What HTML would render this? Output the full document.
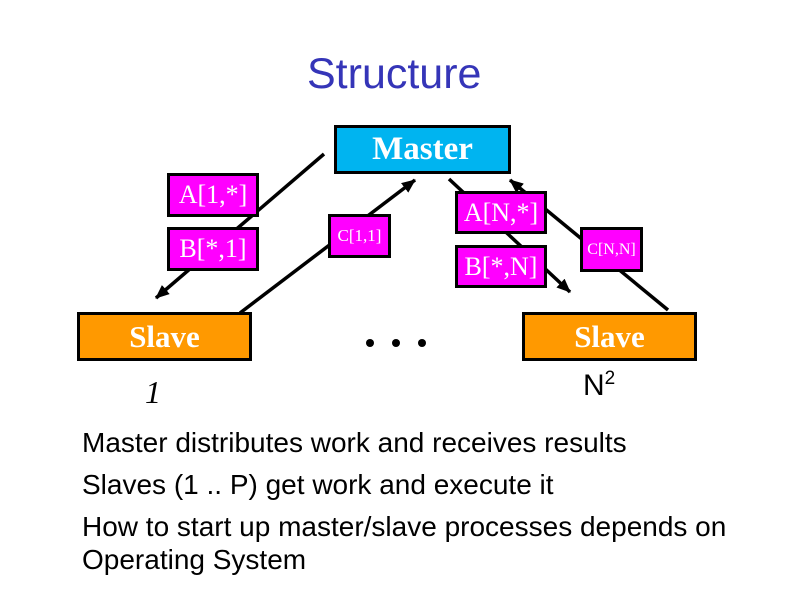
<!DOCTYPE html>
<html><head><meta charset="utf-8"><style>
body{margin:0;width:794px;height:595px;background:#fff;position:relative;overflow:hidden;font-family:"Liberation Sans",sans-serif}
.b{position:absolute;box-sizing:border-box;border:3px solid #000;color:#fff;font-family:"Liberation Serif",serif;font-weight:bold;display:flex;align-items:center;justify-content:center;white-space:nowrap}
.m{background:#ff00ff;font-size:26px;font-weight:normal}
.t{position:absolute;white-space:nowrap}
.d{position:absolute;width:8px;height:8px;border-radius:50%;background:#000;top:339px}
</style></head><body>
<div class="t" style="left:307px;top:50px;font-size:43px;color:#3535b8">Structure</div>
<svg width="794" height="595" style="position:absolute;left:0;top:0">
<defs><marker id="a" markerUnits="userSpaceOnUse" markerWidth="14" markerHeight="12" refX="13" refY="6" orient="auto"><path d="M0,0L14,6L0,12z" fill="#000"/></marker></defs>
<g stroke="#000" stroke-width="3.5" fill="none">
<line x1="324" y1="154" x2="156" y2="298" marker-end="url(#a)"/>
<line x1="240" y1="313" x2="415" y2="180" marker-end="url(#a)"/>
<line x1="449" y1="179" x2="570" y2="292" marker-end="url(#a)"/>
<line x1="668" y1="310" x2="510" y2="180" marker-end="url(#a)"/>
</g></svg>
<div class="b" style="left:334px;top:125px;width:177px;height:49px;background:#00b4f0;font-size:33px">Master</div>
<div class="b m" style="left:167px;top:173px;width:92px;height:44px">A[1,*]</div>
<div class="b m" style="left:167px;top:227px;width:92px;height:44px">B[*,1]</div>
<div class="b m" style="left:328px;top:214px;width:63px;height:44px;font-size:17px">C[1,1]</div>
<div class="b m" style="left:455px;top:191px;width:92px;height:43px">A[N,*]</div>
<div class="b m" style="left:455px;top:245px;width:92px;height:43px">B[*,N]</div>
<div class="b m" style="left:580px;top:227px;width:63px;height:45px;font-size:16px">C[N,N]</div>
<div class="b" style="left:77px;top:312px;width:175px;height:49px;background:#ff9900;font-size:31px">Slave</div>
<div class="b" style="left:522px;top:312px;width:175px;height:49px;background:#ff9900;font-size:31px">Slave</div>
<div class="d" style="left:366px"></div><div class="d" style="left:392px"></div><div class="d" style="left:418px"></div>
<div class="t" style="left:145px;top:374px;font-size:32px;font-style:italic;font-family:'Liberation Serif',serif">1</div>
<div class="t" style="left:583px;top:368px;font-size:30px">N<sup style="font-size:19px">2</sup></div>
<div class="t" style="left:82px;top:422px;font-size:28px;line-height:42px">Master distributes work and receives results<br>Slaves (1 .. P) get work and execute it<br>How to start up master/slave processes depends on</div>
<div class="t" style="left:82px;top:544px;font-size:28px">Operating System</div>
</body></html>
